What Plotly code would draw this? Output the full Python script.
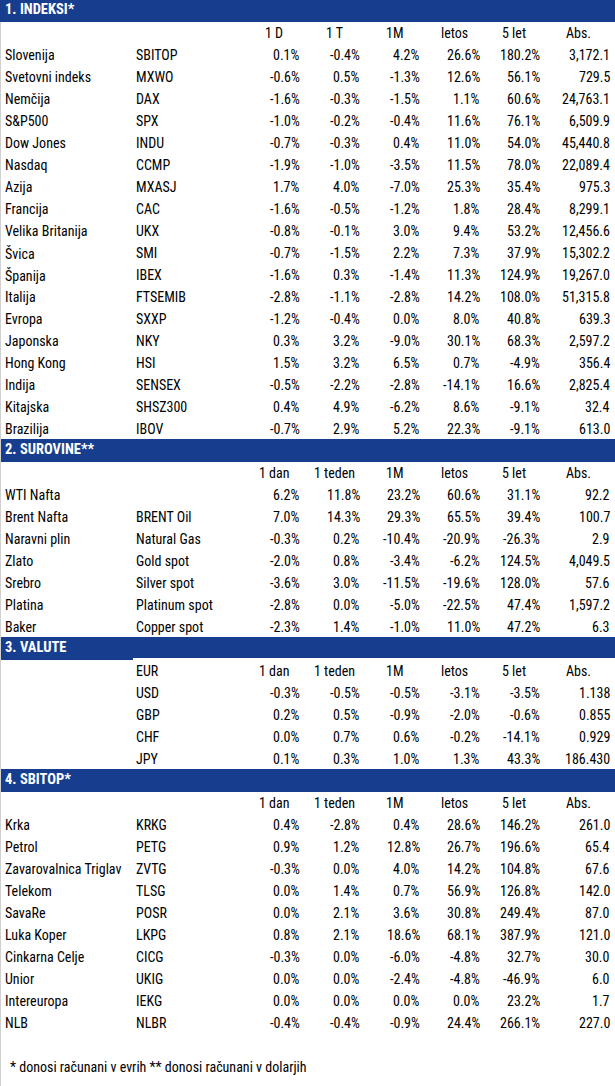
import plotly.graph_objects as go

# ─────────────────────────────────────────────
# DONNÉES
# ─────────────────────────────────────────────
IDX_NAMES = ["Slovenija", "Svetovni indeks", "Nemčija", "S&P500", "Dow Jones", "Nasdaq",
             "Azija", "Francija", "Velika Britanija", "Švica", "Španija", "Italija",
             "Evropa", "Japonska", "Hong Kong", "Indija", "Kitajska", "Brazilija"]
IDX_TICKERS = ["SBITOP", "MXWO", "DAX", "SPX", "INDU", "CCMP", "MXASJ", "CAC", "UKX",
               "SMI", "IBEX", "FTSEMIB", "SXXP", "NKY", "HSI", "SENSEX", "SHSZ300", "IBOV"]
IDX_1D = [0.1, -0.6, -1.6, -1.0, -0.7, -1.9, 1.7, -1.6, -0.8, -0.7, -1.6, -2.8, -1.2, 0.3, 1.5, -0.5, 0.4, -0.7]
IDX_1T = [-0.4, 0.5, -0.3, -0.2, -0.3, -1.0, 4.0, -0.5, -0.1, -1.5, 0.3, -1.1, -0.4, 3.2, 3.2, -2.2, 4.9, 2.9]
IDX_1M = [4.2, -1.3, -1.5, -0.4, 0.4, -3.5, -7.0, -1.2, 3.0, 2.2, -1.4, -2.8, 0.0, -9.0, 6.5, -2.8, -6.2, 5.2]
IDX_YTD = [26.6, 12.6, 1.1, 11.6, 11.0, 11.5, 25.3, 1.8, 9.4, 7.3, 11.3, 14.2, 8.0, 30.1, 0.7, -14.1, 8.6, 22.3]
IDX_5Y = [180.2, 56.1, 60.6, 76.1, 54.0, 78.0, 35.4, 28.4, 53.2, 37.9, 124.9, 108.0, 40.8, 68.3, -4.9, 16.6, -9.1, -9.1]
IDX_ABS = [3172.1, 729.5, 24763.1, 6509.9, 45440.8, 22089.4, 975.3, 8299.1, 12456.6,
           15302.2, 19267.0, 51315.8, 639.3, 2597.2, 356.4, 2825.4, 32.4, 613.0]

COM_NAMES = ["WTI Nafta", "Brent Nafta", "Naravni plin", "Zlato", "Srebro", "Platina", "Baker"]
COM_TICKERS = ["", "BRENT Oil", "Natural Gas", "Gold spot", "Silver spot", "Platinum spot", "Copper spot"]
COM_1D = [6.2, 7.0, -0.3, -2.0, -3.6, -2.8, -2.3]
COM_1T = [11.8, 14.3, 0.2, 0.8, 3.0, 0.0, 1.4]
COM_1M = [23.2, 29.3, -10.4, -3.4, -11.5, -5.0, -1.0]
COM_YTD = [60.6, 65.5, -20.9, -6.2, -19.6, -22.5, 11.0]
COM_5Y = [31.1, 39.4, -26.3, 124.5, 128.0, 47.4, 47.2]
COM_ABS = [92.2, 100.7, 2.9, 4049.5, 57.6, 1597.2, 6.3]

FX_BASE = "EUR"
FX_TICKERS = ["USD", "GBP", "CHF", "JPY"]
FX_1D = [-0.3, 0.2, 0.0, 0.1]
FX_1T = [-0.5, 0.5, 0.7, 0.3]
FX_1M = [-0.5, -0.9, 0.6, 1.0]
FX_YTD = [-3.1, -2.0, -0.2, 1.3]
FX_5Y = [-3.5, -0.6, -14.1, 43.3]
FX_ABS = [1.138, 0.855, 0.929, 186.430]

SBI_NAMES = ["Krka", "Petrol", "Zavarovalnica Triglav", "Telekom", "SavaRe", "Luka Koper",
             "Cinkarna Celje", "Unior", "Intereuropa", "NLB"]
SBI_TICKERS = ["KRKG", "PETG", "ZVTG", "TLSG", "POSR", "LKPG", "CICG", "UKIG", "IEKG", "NLBR"]
SBI_1D = [0.4, 0.9, -0.3, 0.0, 0.0, 0.8, -0.3, 0.0, 0.0, -0.4]
SBI_1T = [-2.8, 1.2, 0.0, 1.4, 2.1, 2.1, 0.0, 0.0, 0.0, -0.4]
SBI_1M = [0.4, 12.8, 4.0, 0.7, 3.6, 18.6, -6.0, -2.4, 0.0, -0.9]
SBI_YTD = [28.6, 26.7, 14.2, 56.9, 30.8, 68.1, -4.8, -4.8, 0.0, 24.4]
SBI_5Y = [146.2, 196.6, 104.8, 126.8, 249.4, 387.9, 32.7, -46.9, 23.2, 266.1]
SBI_ABS = [261.0, 65.4, 67.6, 142.0, 87.0, 121.0, 30.0, 6.0, 1.7, 227.0]

HEAD_SHORT = ["1 D", "1 T", "1M", "letos", "5 let", "Abs."]
HEAD_LONG = ["1 dan", "1 teden", "1M", "letos", "5 let", "Abs."]

SECTIONS = ["1. INDEKSI*", "2. SUROVINE**", "3. VALUTE", "4. SBITOP*"]
FOOTNOTE = "* donosi računani v evrih ** donosi računani v dolarjih"

# ─────────────────────────────────────────────
# MISE EN PAGE
# ─────────────────────────────────────────────
W, H = 615, 1086
ROW = 22
BLUE = "#173E8E"
FONT = "Liberation Sans Narrow, Arial Narrow, Roboto Condensed, DejaVu Sans Condensed, sans-serif"
FS = 14

X_NAME = 3
X_TICK = 134
COL_RIGHT = [302, 362, 422, 482, 542, 612]
COL_CENTER = [274, 334, 395, 454, 514, 578]

fig = go.Figure()
annots = []
shapes = []


def txt(x, row, s, anchor="left", color="black", bold=False, size=FS):
    annots.append(dict(
        x=x, y=row * ROW + ROW / 2, xref="x", yref="y",
        text=f"<b>{s}</b>" if bold else s,
        showarrow=False, xanchor=anchor, yanchor="middle",
        font=dict(family=FONT, size=size, color=color),
    ))


def bar(row, title, notch=False):
    y0, y1 = row * ROW, row * ROW + ROW
    if notch:
        # la partie gauche descend un peu plus bas (comme dans l'original)
        shapes.append(dict(type="rect", xref="x", yref="y", x0=0, x1=X_TICK - 1, y0=y0 - 1, y1=y1,
                           fillcolor=BLUE, line_width=0, layer="below"))
        shapes.append(dict(type="rect", xref="x", yref="y", x0=X_TICK - 1, x1=W, y0=y0 - 1, y1=y1 - 2,
                           fillcolor=BLUE, line_width=0, layer="below"))
    else:
        shapes.append(dict(type="rect", xref="x", yref="y", x0=0, x1=W, y0=y0 - 1, y1=y1,
                           fillcolor=BLUE, line_width=0, layer="below"))
    txt(X_NAME, row - 0.05, title, color="white", bold=True, size=FS + 0.5)


def pct(v):
    return f"{v:.1f}%"


def rows(start, names, tickers, cols, abs_vals, abs_fmt):
    for i in range(len(tickers)):
        r = start + i
        if names is not None:
            txt(X_NAME, r, names[i])
        txt(X_TICK, r, tickers[i])
        for k, c in enumerate(cols):
            txt(COL_RIGHT[k], r, pct(c[i]), anchor="right")
        txt(COL_RIGHT[5], r, abs_fmt.format(abs_vals[i]), anchor="right")


def header(row, labels, first=None):
    if first:
        txt(X_TICK, row, first)
    for k, lab in enumerate(labels):
        txt(COL_CENTER[k], row, lab, anchor="center")


# 1. Indeksi
r = 0
bar(r, SECTIONS[0])
header(r + 1, HEAD_SHORT)
rows(r + 2, IDX_NAMES, IDX_TICKERS, [IDX_1D, IDX_1T, IDX_1M, IDX_YTD, IDX_5Y], IDX_ABS, "{:,.1f}")
r += 2 + len(IDX_NAMES)

# 2. Surovine
bar(r, SECTIONS[1])
header(r + 1, HEAD_LONG)
rows(r + 2, COM_NAMES, COM_TICKERS, [COM_1D, COM_1T, COM_1M, COM_YTD, COM_5Y], COM_ABS, "{:,.1f}")
r += 2 + len(COM_NAMES)

# 3. Valute
bar(r, SECTIONS[2], notch=True)
header(r + 1, HEAD_LONG, first=FX_BASE)
rows(r + 2, None, FX_TICKERS, [FX_1D, FX_1T, FX_1M, FX_YTD, FX_5Y], FX_ABS, "{:.3f}")
r += 2 + len(FX_TICKERS)

# 4. SBITOP
bar(r, SECTIONS[3])
header(r + 1, HEAD_LONG)
rows(r + 2, SBI_NAMES, SBI_TICKERS, [SBI_1D, SBI_1T, SBI_1M, SBI_YTD, SBI_5Y], SBI_ABS, "{:,.1f}")
r += 2 + len(SBI_NAMES)

# Opomba
txt(8, r + 1, FOOTNOTE)

# fine bordure grise à gauche
shapes.append(dict(type="line", xref="x", yref="y", x0=0.5, x1=0.5, y0=ROW, y1=H,
                   line=dict(color="#D0D0D0", width=1)))

fig.update_layout(
    width=W, height=H,
    margin=dict(l=0, r=0, t=0, b=0),
    paper_bgcolor="white", plot_bgcolor="white",
    xaxis=dict(range=[0, W], visible=False, fixedrange=True),
    yaxis=dict(range=[H, 0], visible=False, fixedrange=True),
    annotations=annots, shapes=shapes,
    showlegend=False,
)

fig.write_html("out.html", config={"displayModeBar": False},
               post_script="document.body.style.margin='0';")
